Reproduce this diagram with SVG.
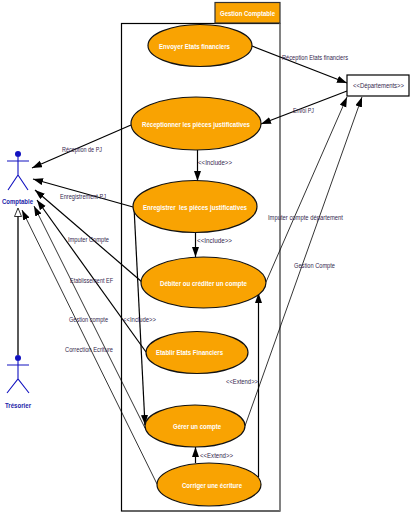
<svg xmlns="http://www.w3.org/2000/svg" width="410" height="512" viewBox="0 0 410 512">
<style>
.uc{fill:#f9a302;stroke:#111;stroke-width:1.200}
.ut{font:bold 6.5px "Liberation Sans",sans-serif;fill:#fff}
.lb{font:6.5px "Liberation Sans",sans-serif;fill:#33264d}
.ac{font:bold 6.5px "Liberation Sans",sans-serif;fill:#1c1ca8}
.fig{fill:none;stroke:#1212c0;stroke-width:1.100}
.c{fill:none;stroke:#000;stroke-width:1.200;marker-end:url(#a)}
.t{fill:none;stroke:#000;stroke-width:.8;marker-end:url(#a)}
</style>
<defs>
<marker id="a" markerUnits="userSpaceOnUse" markerWidth="11" markerHeight="8" refX="10" refY="3.500" orient="auto"><path d="M0 0L10 3.500L0 7z" fill="#000"/></marker>
</defs>
<rect width="410" height="512" fill="#fff"/>
<g id="system">
<rect x="121.500" y="23.500" width="158.500" height="487.500" fill="none" stroke="#000" stroke-width="1.200"/>
<path d="M280 23V511" stroke="#8c8c8c" stroke-width="1.500" fill="none"/>
<rect x="215" y="2.500" width="65" height="20.500" fill="#f9a302" stroke="#333" stroke-width="1.200"/>
<text class="ut" x="220" y="15.500" textLength="55" lengthAdjust="spacingAndGlyphs">Gestion Comptable</text>
</g>
<g id="connectors">
<path class="c" d="M252 46L347 83"/>
<path class="c" d="M347 91L261 124"/>
<path class="c" d="M131 125L32 168"/>
<path class="c" d="M133 207L33 179"/>
<path class="c" d="M142 282L35 190"/>
<path class="c" d="M146 352L37 200"/>
<path class="t" d="M145 428L34 206"/>
<path class="t" d="M157 484L22 210"/>
<path class="c" d="M197.500 150V181"/>
<path class="c" d="M195.500 232V257"/>
<path class="c" d="M134 207L145 425"/>
<path class="c" d="M195.500 463V447"/>
<path class="c" d="M258.500 477V293"/>
<path class="t" d="M266 282L347 97"/>
<path class="t" d="M245 426L362 97"/>
<path d="M18 216V355" stroke="#000" stroke-width="1.300" fill="none"/>
<path d="M18 208L14.500 216.500H21.500z" fill="#fff" stroke="#000" stroke-width=".8"/>
</g>
<g id="uc1"><ellipse class="uc" cx="200" cy="45.500" rx="52" ry="21"/><text class="ut" x="159" y="48.500" textLength="71" lengthAdjust="spacingAndGlyphs">Envoyer Etats financiers</text></g>
<g id="uc2"><ellipse class="uc" cx="196" cy="123.500" rx="65" ry="26.500"/><text class="ut" x="142" y="126.500" textLength="108" lengthAdjust="spacingAndGlyphs">Réceptionner les pièces justificatives</text></g>
<g id="uc3"><ellipse class="uc" cx="195" cy="206.500" rx="62" ry="26"/><text class="ut" x="143" y="209.500" textLength="104" lengthAdjust="spacingAndGlyphs" xml:space="preserve">Enregistrer  les pièces justificatives</text></g>
<g id="uc4"><ellipse class="uc" cx="203.500" cy="282.500" rx="62.500" ry="25.500"/><text class="ut" x="160" y="285.500" textLength="87" lengthAdjust="spacingAndGlyphs">Débiter ou créditer un compte</text></g>
<g id="uc5"><ellipse class="uc" cx="197" cy="352.500" rx="51" ry="21"/><text class="ut" x="156" y="354.500" textLength="67" lengthAdjust="spacingAndGlyphs">Etablir Etats Financiers</text></g>
<g id="uc6"><ellipse class="uc" cx="195" cy="426" rx="50" ry="21"/><text class="ut" x="173" y="428.500" textLength="48" lengthAdjust="spacingAndGlyphs">Gérer un compte</text></g>
<g id="uc7"><ellipse class="uc" cx="209" cy="484.500" rx="52" ry="21.500"/><text class="ut" x="182" y="487.500" textLength="60" lengthAdjust="spacingAndGlyphs">Corriger une écriture</text></g>
<g id="departements"><rect x="347" y="75" width="62" height="21" fill="#fff" stroke="#000" stroke-width="1.200"/><text class="lb" x="353" y="88" textLength="51" lengthAdjust="spacingAndGlyphs">&lt;&lt;Départements&gt;&gt;</text></g>
<g id="comptable"><circle cx="18" cy="154" r="3" fill="#1212c0"/><path class="fig" d="M18 157V175M7 161H29M8 190L18 175L28 190"/><text class="ac" x="2" y="203.500" textLength="31" lengthAdjust="spacingAndGlyphs">Comptable</text></g>
<g id="tresorier"><circle cx="18" cy="358" r="3" fill="#1212c0"/><path class="fig" d="M18 361V379M7 365H29M7 393L18 379L29 393"/><text class="ac" x="5" y="407.500" textLength="26" lengthAdjust="spacingAndGlyphs">Trésorier</text></g>
<g id="labels">
<text class="lb" x="282" y="60" textLength="66" lengthAdjust="spacingAndGlyphs">Réception Etats financiers</text>
<text class="lb" x="293" y="113" textLength="21" lengthAdjust="spacingAndGlyphs">Envoi PJ</text>
<text class="lb" x="198" y="164.500" textLength="34" lengthAdjust="spacingAndGlyphs">&lt;&lt;Include&gt;&gt;</text>
<text class="lb" x="62" y="151.500" textLength="40" lengthAdjust="spacingAndGlyphs">Réception de PJ</text>
<text class="lb" x="60" y="198.500" textLength="46" lengthAdjust="spacingAndGlyphs">Enregistrement PJ</text>
<text class="lb" x="68" y="241.500" textLength="41" lengthAdjust="spacingAndGlyphs">Imputer Compte</text>
<text class="lb" x="70" y="282.500" textLength="43" lengthAdjust="spacingAndGlyphs">Etablissement EF</text>
<text class="lb" x="69" y="321.500" textLength="39" lengthAdjust="spacingAndGlyphs">Gestion compte</text>
<text class="lb" x="123" y="321.500" textLength="33" lengthAdjust="spacingAndGlyphs">&lt;&lt;Include&gt;&gt;</text>
<text class="lb" x="65" y="351.500" textLength="48" lengthAdjust="spacingAndGlyphs">Correction Ecriture</text>
<text class="lb" x="197" y="242.500" textLength="35" lengthAdjust="spacingAndGlyphs">&lt;&lt;Include&gt;&gt;</text>
<text class="lb" x="268" y="219.500" textLength="75" lengthAdjust="spacingAndGlyphs">Imputer compte département</text>
<text class="lb" x="294" y="267.500" textLength="41" lengthAdjust="spacingAndGlyphs">Gestion Compte</text>
<text class="lb" x="226" y="383.500" textLength="32" lengthAdjust="spacingAndGlyphs">&lt;&lt;Extend&gt;&gt;</text>
<text class="lb" x="200" y="457.500" textLength="33" lengthAdjust="spacingAndGlyphs">&lt;&lt;Extend&gt;&gt;</text>
</g>
</svg>
